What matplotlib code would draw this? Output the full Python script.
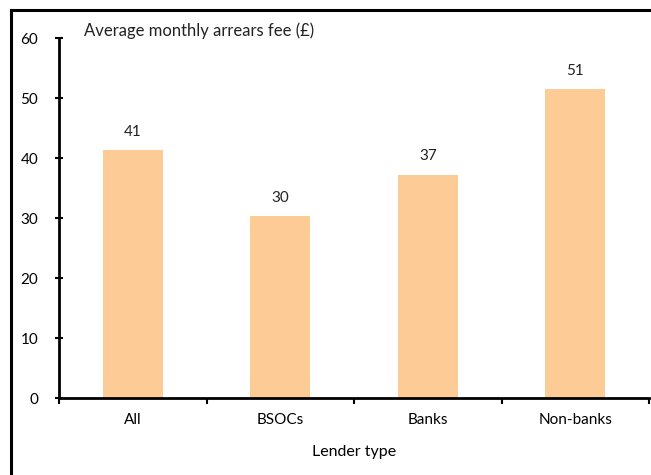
import matplotlib
matplotlib.use("Agg")
import matplotlib.pyplot as plt
from matplotlib.lines import Line2D

categories = ["All", "BSOCs", "Banks", "Non-banks"]
values = [41.3, 30.3, 37.2, 51.5]
labels = ["41", "30", "37", "51"]
yticks = [0, 10, 20, 30, 40, 50, 60]

plt.rcParams['font.family'] = ['Lato', 'DejaVu Sans']
fs = 11

fig = plt.figure(figsize=(6.51, 4.75), dpi=100)
W, H = 651, 475
ax = fig.add_axes([59 / W, 1 - 398 / H, (649 - 59) / W, (398 - 38) / H])

x = list(range(len(categories)))
ax.bar(x, values, width=0.41, color="#FDCC96", zorder=2)
for xi, v, lab in zip(x, values, labels):
    ax.text(xi, v + 1.9, lab, ha="center", va="bottom", fontsize=fs, color="#222222")

ax.set_xlim(-0.5, 3.5)
ax.set_ylim(0, 60)
ax.set_yticks(yticks)
ax.set_yticklabels([str(t) for t in yticks], fontsize=fs)
ax.set_xticks([-0.5, 0.5, 1.5, 2.5, 3.5])
ax.set_xticklabels([])
ax.set_xticks(x, minor=True)
ax.set_xticklabels(categories, minor=True, fontsize=fs)
ax.tick_params(axis="x", which="minor", length=0, pad=11)
ax.tick_params(axis="x", which="major", direction="out", length=4, width=1.5)
ax.tick_params(axis="y", direction="inout", length=6, width=1.5, pad=12)

for s in ["top", "right"]:
    ax.spines[s].set_visible(False)
for s in ["left", "bottom"]:
    ax.spines[s].set_linewidth(2)

ax.set_xlabel("Lender type", fontsize=11.5, labelpad=13)
fig.text(84 / W, 1 - 31 / H, "Average monthly arrears fee (£)", fontsize=12,
         ha="left", va="center", color="#222222")

# outer frame (left and top edges visible)
fig.add_artist(Line2D([11 / W, 11 / W], [0, 1 - 10 / H], transform=fig.transFigure,
                      color="black", linewidth=2.2))
fig.add_artist(Line2D([11 / W, 1], [1 - 10 / H, 1 - 10 / H], transform=fig.transFigure,
                      color="black", linewidth=2.2))

fig.savefig("out.png", dpi=100)
